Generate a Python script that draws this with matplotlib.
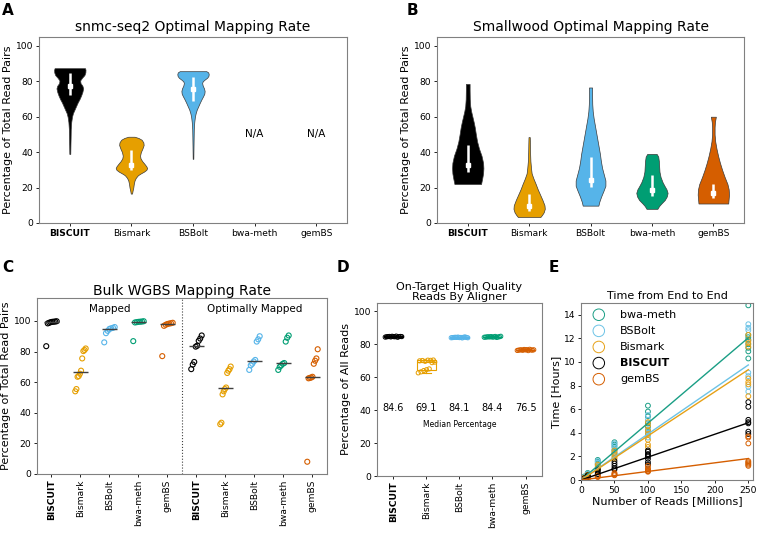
import numpy as np
import matplotlib.pyplot as plt

aligners = ['BISCUIT', 'Bismark', 'BSBolt', 'bwa-meth', 'gemBS']
colors = ['#000000', '#E69F00', '#56B4E9', '#009E73', '#D55E00']
SPINE = '#808080'

# ---- A: snmc-seq2 violins (outline levels in %, relative width), box = (q1, median, q3)
a_biscuit_lv = [87.4, 86.5, 85, 83.5, 82, 80.5, 79, 77.5, 76, 74, 72, 70, 68, 66, 64, 62, 60, 57, 53, 48, 44, 39]
a_biscuit_w = [0.97, 1.0, 0.99, 0.93, 0.78, 0.66, 0.68, 0.8, 0.85, 0.8, 0.72, 0.62, 0.5, 0.4, 0.3, 0.2, 0.14, 0.09, 0.06, 0.05, 0.04, 0.03]
a_bismark_lv = [48.7, 48, 47, 45.5, 44, 42, 40, 38, 36.5, 35, 33.5, 32, 31, 30, 29, 28, 27, 25.5, 24, 22, 20, 18.5, 16.6]
a_bismark_w = [0.2, 0.45, 0.65, 0.76, 0.78, 0.7, 0.6, 0.55, 0.58, 0.68, 0.82, 0.95, 1.0, 0.95, 0.8, 0.6, 0.42, 0.28, 0.2, 0.15, 0.12, 0.08, 0.04]
a_bsbolt_lv = [85.7, 85, 84, 83, 82, 81, 80, 79, 77.5, 76, 74.5, 73, 71.5, 70, 68, 66, 64, 62, 60, 57, 53, 48, 42, 36.2]
a_bsbolt_w = [0.85, 0.97, 1.0, 0.98, 0.9, 0.75, 0.62, 0.58, 0.62, 0.7, 0.74, 0.72, 0.64, 0.55, 0.44, 0.34, 0.24, 0.17, 0.12, 0.08, 0.05, 0.04, 0.03, 0.02]
a_boxes = [(72, 77.5, 84.5), (30, 32.5, 41), (69, 75.5, 82.5)]

# ---- B: Smallwood violins
b_biscuit_lv = [78.5, 75, 70, 66, 63, 60, 57, 54, 50, 46, 42, 38, 34, 31, 28, 25, 22]
b_biscuit_w = [0.12, 0.12, 0.13, 0.16, 0.22, 0.3, 0.38, 0.45, 0.52, 0.6, 0.72, 0.88, 0.98, 1.0, 0.98, 0.92, 0.85]
b_bismark_lv = [48.5, 45, 40, 35, 31, 28, 25, 22, 19, 16, 13, 10, 8, 6, 4.5, 3.4]
b_bismark_w = [0.04, 0.05, 0.06, 0.08, 0.12, 0.16, 0.28, 0.42, 0.55, 0.7, 0.85, 0.98, 1.0, 0.93, 0.82, 0.72]
b_bsbolt_lv = [76.5, 72, 67, 63, 59, 55, 51, 47, 43, 39, 35, 31, 27, 24, 21, 18, 15, 12, 9.8]
b_bsbolt_w = [0.1, 0.1, 0.11, 0.14, 0.2, 0.28, 0.36, 0.44, 0.52, 0.6, 0.66, 0.74, 0.86, 0.95, 0.95, 0.82, 0.68, 0.56, 0.5]
b_bwa_lv = [39, 37.5, 35, 32, 29, 26, 23, 21, 19, 17, 15, 13, 11, 9.5, 8]
b_bwa_w = [0.3, 0.4, 0.44, 0.46, 0.48, 0.55, 0.68, 0.8, 0.93, 1.0, 0.95, 0.82, 0.6, 0.45, 0.35]
b_gembs_lv = [60, 57, 54, 50, 46, 42, 38, 34, 30, 26, 22, 19, 16, 13, 11]
b_gembs_w = [0.16, 0.1, 0.08, 0.08, 0.12, 0.2, 0.3, 0.42, 0.56, 0.72, 0.9, 0.98, 1.0, 0.97, 0.95]
b_boxes = [(29, 32.5, 44), (7, 9.5, 16.5), (20.5, 24.5, 37.5), (15.5, 18.5, 27), (14, 17, 22)]

# ---- C: bulk WGBS mapping rates (%)
mapped = [
    [99.8, 99.6, 99.5, 99.4, 99.2, 98.8, 98.4, 83.5],
    [82.0, 81.0, 80.3, 75.5, 67.5, 65.5, 64.0, 63.5, 55.5, 54.0],
    [96.0, 95.5, 95.2, 94.8, 93.5, 92.0, 86.0],
    [99.8, 99.6, 99.5, 99.4, 99.2, 99.0, 86.8],
    [98.8, 98.5, 98.3, 98.0, 97.5, 96.8, 77.0],
]
opt_mapped = [
    [90.5, 88.5, 87.0, 83.8, 83.2, 73.2, 71.5, 68.5],
    [70.2, 68.5, 67.5, 66.0, 56.5, 55.5, 54.0, 52.0, 33.5, 32.5],
    [90.0, 88.0, 86.5, 74.5, 73.5, 72.0, 71.0, 68.0],
    [90.5, 89.0, 86.5, 72.5, 72.0, 71.0, 70.0, 68.0],
    [81.5, 75.5, 74.0, 72.0, 63.5, 63.0, 62.8, 62.5, 8.0],
]

# ---- D: on-target high quality reads (%)
on_target = [
    [84.3, 84.5, 84.6, 84.7, 84.4, 84.8, 84.6, 84.5, 84.9, 84.2, 84.6, 84.7, 84.6],
    [62.6, 69.9, 63.2, 70.1, 64.0, 69.6, 64.5, 70.3, 65.0, 70.2, 68.8, 70.4, 69.1],
    [83.9, 84.0, 84.1, 84.2, 84.1, 84.3, 84.0, 84.1, 83.8, 84.2, 84.4, 84.1, 83.9],
    [84.2, 84.3, 84.4, 84.5, 84.4, 84.6, 84.3, 84.4, 84.7, 84.1, 84.4, 84.5, 84.8],
    [76.2, 76.4, 76.5, 76.6, 76.3, 76.8, 76.5, 76.7, 76.1, 76.9, 76.5, 76.4, 76.6],
]

# ---- E: run time (hours) vs reads (millions)
reads = [1, 5, 10, 25, 50, 100, 250]
e_names = ['bwa-meth', 'BSBolt', 'Bismark', 'BISCUIT', 'gemBS']
e_colors = ['#1a9e85', '#6cc3e6', '#E6A117', '#000000', '#D55E00']
e_hours = [
    [[0.05, 0.04], [0.3, 0.25], [0.6, 0.5, 0.45], [1.7, 1.55, 1.4, 1.3], [3.2, 3.0, 2.8, 2.5, 2.3],
     [6.3, 5.8, 5.4, 4.8, 4.5, 4.2, 4.0], [14.8, 12.3, 12.1, 11.9, 11.5, 11.2, 10.9, 10.3]],
    [[0.05], [0.25, 0.2], [0.55, 0.45], [1.6, 1.45, 1.25], [3.1, 2.9, 2.6, 2.2, 2.0],
     [5.5, 5.1, 4.3, 4.0, 3.8, 3.6], [13.2, 12.9, 12.7, 11.8, 9.1, 8.8, 7.9, 7.5]],
    [[0.04], [0.2, 0.18], [0.45, 0.4], [1.3, 1.15, 1.0, 0.9], [2.5, 2.3, 2.1, 1.9, 1.8],
     [4.9, 4.6, 4.2, 3.9, 3.4, 3.0, 2.8], [12.3, 11.8, 11.6, 11.3, 8.6, 8.3, 8.1, 7.1]],
    [[0.03], [0.15, 0.12], [0.4, 0.3, 0.25], [0.9, 0.8, 0.65, 0.5], [1.6, 1.4, 1.2, 1.0, 0.9],
     [2.5, 2.4, 2.2, 2.1, 2.0, 1.8, 1.5, 1.3], [6.6, 6.2, 5.1, 4.9, 4.8, 4.1, 3.9]],
    [[0.02], [0.08, 0.06], [0.15, 0.1], [0.35, 0.3, 0.25], [0.6, 0.5, 0.45, 0.4],
     [1.2, 1.0, 0.9, 0.8, 0.75, 0.7], [3.7, 3.6, 3.1, 1.6, 1.5, 1.4, 1.3, 1.2]],
]
e_fit_at_250 = [12.05, 9.75, 9.35, 4.85, 1.82]


def style_axes(ax):
    for s in ax.spines.values():
        s.set_color(SPINE)
    ax.tick_params(labelsize=6.6, length=2.5, width=0.6, pad=1.5)


def bold_first(ax):
    for lab in ax.get_xticklabels():
        if lab.get_text() == 'BISCUIT':
            lab.set_fontweight('bold')


def violin(ax, x, levels, widths, box, color):
    lv = np.array(levels)
    w = np.array(widths) * 0.255
    ax.fill_betweenx(lv, x - w, x + w, facecolor=color, edgecolor='#3a3a3a', lw=0.5)
    ax.vlines(x, box[0], box[2], color='white', lw=1.8)
    ax.plot(x, box[1], 's', color='white', ms=2.8)


fig = plt.figure(figsize=(7.59, 5.34), dpi=100)

# A
axA = fig.add_axes([0.0514, 0.5824, 0.4058, 0.3483])
a_sets = [(a_biscuit_lv, a_biscuit_w), (a_bismark_lv, a_bismark_w), (a_bsbolt_lv, a_bsbolt_w)]
for i, (lv, w) in enumerate(a_sets):
    violin(axA, i, lv, w, a_boxes[i], colors[i])
for i in [3, 4]:
    axA.text(i, 50, 'N/A', ha='center', va='center', fontsize=7.5)
axA.set_xlim(-0.5, 4.5)
axA.set_ylim(0, 105)
axA.set_xticks(range(5))
axA.set_xticklabels(aligners)
axA.set_ylabel('Percentage of Total Read Pairs', fontsize=8, labelpad=2)
axA.set_title('snmc-seq2 Optimal Mapping Rate', fontsize=10, pad=4)
style_axes(axA)
bold_first(axA)

# B
axB = fig.add_axes([0.5758, 0.5824, 0.4045, 0.3483])
b_sets = [(b_biscuit_lv, b_biscuit_w), (b_bismark_lv, b_bismark_w), (b_bsbolt_lv, b_bsbolt_w),
          (b_bwa_lv, b_bwa_w), (b_gembs_lv, b_gembs_w)]
for i, (lv, w) in enumerate(b_sets):
    violin(axB, i, lv, w, b_boxes[i], colors[i])
axB.set_xlim(-0.5, 4.5)
axB.set_ylim(0, 105)
axB.set_xticks(range(5))
axB.set_xticklabels(aligners)
axB.set_ylabel('Percentage of Total Read Pairs', fontsize=8, labelpad=2)
axB.set_title('Smallwood Optimal Mapping Rate', fontsize=10, pad=4)
style_axes(axB)
bold_first(axB)

# C
axC = fig.add_axes([0.0487, 0.1124, 0.3821, 0.3296])
for block, data in enumerate([mapped, opt_mapped]):
    for i, vals in enumerate(data):
        x0 = block * 5 + i
        v = np.sort(vals)
        jit = np.linspace(-0.18, 0.18, len(v))
        axC.scatter(x0 + jit, v, s=13, facecolors='none', edgecolors=colors[i], lw=0.8, zorder=3)
        axC.hlines(np.median(v), x0 - 0.26, x0 + 0.26, color='#404040', lw=1, zorder=4)
axC.axvline(4.5, color='#404040', ls=':', lw=0.8)
axC.text(2, 108, 'Mapped', ha='center', va='center', fontsize=7.5)
axC.text(7, 108, 'Optimally Mapped', ha='center', va='center', fontsize=7.5)
axC.set_xlim(-0.5, 9.5)
axC.set_ylim(0, 115)
axC.set_xticks(range(10))
axC.set_xticklabels(aligners * 2, rotation=90)
axC.set_ylabel('Percentage of Total Read Pairs', fontsize=8, labelpad=2)
axC.set_title('Bulk WGBS Mapping Rate', fontsize=10, pad=2)
style_axes(axC)
bold_first(axC)

# D
axD = fig.add_axes([0.4967, 0.1086, 0.2174, 0.3240])
for i, vals in enumerate(on_target):
    v = np.array(vals)
    bp = axD.boxplot(v, positions=[i], widths=0.55, showfliers=False, patch_artist=True,
                     whis=1.5, manage_ticks=False)
    for part in ['boxes', 'whiskers', 'caps', 'medians']:
        for art in bp[part]:
            art.set_color(colors[i])
            art.set_linewidth(0.8)
    bp['boxes'][0].set_facecolor('none')
    jit = np.linspace(-0.25, 0.25, len(v))
    axD.scatter(i + jit, v, s=9, facecolors='none', edgecolors=colors[i], lw=0.7, zorder=3)
    axD.text(i, 41, '%.1f' % np.median(v), ha='center', va='center', fontsize=7)
axD.text(2, 31, 'Median Percentage', ha='center', va='center', fontsize=5.5)
axD.set_xlim(-0.5, 4.5)
axD.set_ylim(0, 105)
axD.set_xticks(range(5))
axD.set_xticklabels(aligners, rotation=90)
axD.set_ylabel('Percentage of All Reads', fontsize=8, labelpad=2)
axD.set_title('On-Target High Quality\nReads By Aligner', fontsize=8, pad=2, linespacing=1.0)
style_axes(axD)
bold_first(axD)

# E
axE = fig.add_axes([0.7655, 0.1011, 0.2266, 0.3315])
for name, col, hours, end in zip(e_names, e_colors, e_hours, e_fit_at_250):
    xs = [r for r, hs in zip(reads, hours) for _ in hs]
    ys = [h for hs in hours for h in hs]
    axE.scatter(xs, ys, s=12, facecolors='none', edgecolors=col, lw=0.7, label=name)
    axE.plot([0, 250], [0, end], color=col, lw=1)
leg = axE.legend(loc='upper left', fontsize=8, frameon=False, markerscale=2.4,
                 handletextpad=0.9, borderaxespad=0.2, labelspacing=0.55)
for t in leg.get_texts():
    if t.get_text() == 'BISCUIT':
        t.set_fontweight('bold')
axE.set_xlim(0, 257)
axE.set_ylim(0, 15)
axE.set_xticks([0, 50, 100, 150, 200, 250])
axE.set_yticks(range(0, 15, 2))
axE.set_xlabel('Number of Reads [Millions]', fontsize=8, labelpad=1)
axE.set_ylabel('Time [Hours]', fontsize=8, labelpad=2)
axE.set_title('Time from End to End', fontsize=8, pad=3)
style_axes(axE)

# panel letters
for lab, x, y in [('A', 0.003, 0.995), ('B', 0.536, 0.995), ('C', 0.003, 0.513),
                  ('D', 0.444, 0.513), ('E', 0.723, 0.513)]:
    fig.text(x, y, lab, fontsize=11, fontweight='bold', va='top', ha='left')

fig.savefig('out.png', dpi=100)
